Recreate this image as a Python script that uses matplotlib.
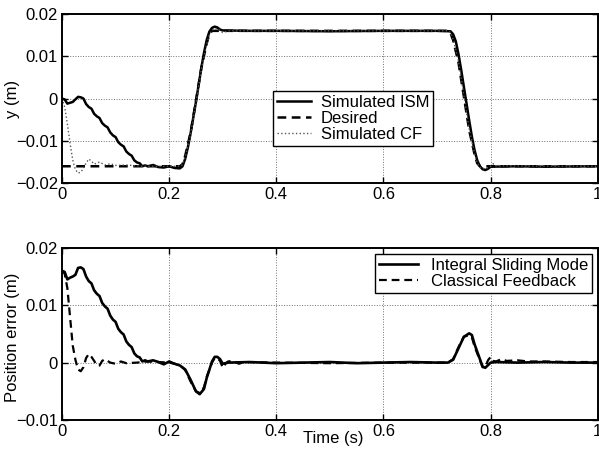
import matplotlib
matplotlib.use("Agg")
import matplotlib.pyplot as plt

plt.rcParams["font.family"] = ["Liberation Sans", "DejaVu Sans"]
plt.rcParams["font.size"] = 12

# ---- top panel: position tracking ----
t_des = [0.0, 0.22, 0.225, 0.23, 0.24, 0.25, 0.26, 0.27, 0.275, 0.28,
         0.72, 0.725, 0.73, 0.74, 0.75, 0.76, 0.77, 0.775, 0.78, 1.0]
y_des = [-0.016, -0.016, -0.0155, -0.0135, -0.0080, -0.0005, 0.0072, 0.0130, 0.0152, 0.0160,
         0.0160, 0.0155, 0.0138, 0.0085, 0.0005, -0.0075, -0.0132, -0.0153, -0.0160, -0.0160]

t_ism = [0.0, 0.005, 0.01, 0.015, 0.02, 0.025, 0.03, 0.035, 0.04, 0.045,
         0.05, 0.055, 0.06, 0.065, 0.07, 0.075, 0.08, 0.085, 0.09, 0.095,
         0.1, 0.105, 0.11, 0.115, 0.12, 0.125, 0.13, 0.135, 0.14, 0.145,
         0.15, 0.155, 0.16, 0.17, 0.18, 0.19, 0.2, 0.21, 0.22, 0.225,
         0.23, 0.235, 0.24, 0.245, 0.25, 0.255, 0.26, 0.265, 0.27, 0.275,
         0.28, 0.285, 0.29, 0.295, 0.3, 0.35, 0.4, 0.5, 0.6, 0.7,
         0.725, 0.73, 0.735, 0.74, 0.745, 0.75, 0.755, 0.76, 0.765, 0.77,
         0.775, 0.78, 0.785, 0.79, 0.795, 0.8, 0.85, 0.9, 1.0]
y_ism = [0.0, -0.0002, -0.0012, -0.0010, -0.0008, -0.0002, 0.0004, 0.0003, 0.0, -0.0013,
         -0.0020, -0.0024, -0.0036, -0.0042, -0.0046, -0.0058, -0.0064, -0.0068, -0.0080, -0.0087,
         -0.0091, -0.0103, -0.0109, -0.0113, -0.0125, -0.0131, -0.0135, -0.0146, -0.0151, -0.0153,
         -0.0160, -0.0158, -0.0160, -0.0157, -0.0162, -0.0163, -0.0160, -0.0164, -0.0165, -0.0160,
         -0.0142, -0.0115, -0.0082, -0.0045, -0.0008, 0.0032, 0.0072, 0.0108, 0.0138, 0.0158,
         0.0167, 0.0170, 0.0168, 0.0163, 0.0161, 0.0160, 0.0160, 0.0159, 0.0160, 0.0160,
         0.0159, 0.0152, 0.0135, 0.0105, 0.0068, 0.0028, -0.0012, -0.0052, -0.0090, -0.0122,
         -0.0146, -0.0160, -0.0167, -0.0169, -0.0166, -0.0161, -0.0160, -0.0161, -0.0160]

t_cf = [0.0, 0.005, 0.01, 0.015, 0.02, 0.025, 0.03, 0.035, 0.04, 0.045,
        0.05, 0.055, 0.06, 0.07, 0.08, 0.09, 0.1, 0.12, 0.15, 0.22,
        0.225, 0.23, 0.24, 0.25, 0.26, 0.27, 0.275, 0.28, 0.29, 0.295,
        0.3, 0.31, 0.72, 0.725, 0.73, 0.74, 0.75, 0.76, 0.77, 0.775,
        0.78, 0.79, 0.8, 0.805, 0.81, 1.0]
y_cf = [0.0, -0.0020, -0.0060, -0.0105, -0.0145, -0.0168, -0.0176, -0.0174, -0.0165, -0.0152,
        -0.0143, -0.0148, -0.0155, -0.0150, -0.0157, -0.0154, -0.0158, -0.0157, -0.0160, -0.0160,
        -0.0156, -0.0138, -0.0085, -0.0010, 0.0068, 0.0128, 0.0150, 0.0162, 0.0166, 0.0160,
        0.0156, 0.0160, 0.0160, 0.0156, 0.0140, 0.0088, 0.0008, -0.0072, -0.0130, -0.0152,
        -0.0163, -0.0166, -0.0160, -0.0154, -0.0159, -0.0160]

# ---- bottom panel: position error ----
t_err_ism = [0.0, 0.005, 0.01, 0.015, 0.02, 0.025, 0.03, 0.035, 0.04, 0.045,
             0.05, 0.055, 0.06, 0.065, 0.07, 0.075, 0.08, 0.085, 0.09, 0.095,
             0.1, 0.105, 0.11, 0.115, 0.12, 0.125, 0.13, 0.135, 0.14, 0.145,
             0.15, 0.155, 0.16, 0.17, 0.18, 0.19, 0.2, 0.21, 0.22, 0.23,
             0.24, 0.25, 0.257, 0.265, 0.27, 0.28, 0.285, 0.29, 0.295, 0.3,
             0.31, 0.35, 0.4, 0.45, 0.5, 0.55, 0.6, 0.65, 0.7, 0.72,
             0.73, 0.74, 0.75, 0.76, 0.765, 0.77, 0.78, 0.785, 0.79, 0.8,
             0.81, 0.85, 0.9, 0.95, 1.0]
e_ism = [0.0160, 0.0158, 0.0145, 0.0148, 0.0150, 0.0153, 0.0165, 0.0166, 0.0163, 0.0150,
         0.0142, 0.0138, 0.0126, 0.0120, 0.0116, 0.0104, 0.0098, 0.0094, 0.0082, 0.0075,
         0.0071, 0.0059, 0.0053, 0.0049, 0.0037, 0.0031, 0.0027, 0.0016, 0.0011, 0.0009,
         0.0002, 0.0004, 0.0002, 0.0004, 0.0001, -0.0003, 0.0002, -0.0002, -0.0005, -0.0012,
         -0.0030, -0.0050, -0.0055, -0.0046, -0.0027, 0.0002, 0.0010, 0.0010, 0.0006, -0.0002,
         0.0000, 0.0001, -0.0001, 0.0000, 0.0001, -0.0001, 0.0000, 0.0001, 0.0000, 0.0000,
         0.0005, 0.0025, 0.0045, 0.0051, 0.0048, 0.0032, 0.0006, -0.0007, -0.0009, 0.0000,
         0.0001, 0.0000, 0.0001, 0.0000, 0.0000]

t_err_cf = [0.0, 0.005, 0.01, 0.015, 0.02, 0.025, 0.03, 0.035, 0.04, 0.045,
            0.05, 0.055, 0.06, 0.065, 0.07, 0.075, 0.08, 0.09, 0.1, 0.11,
            0.12, 0.14, 0.16, 0.18, 0.2, 0.22, 0.23, 0.24, 0.25, 0.257,
            0.265, 0.27, 0.28, 0.285, 0.29, 0.295, 0.3, 0.305, 0.31, 0.32,
            0.33, 0.34, 0.4, 0.5, 0.6, 0.72, 0.73, 0.74, 0.75, 0.76,
            0.765, 0.77, 0.78, 0.785, 0.79, 0.795, 0.8, 0.805, 0.81, 0.82,
            0.83, 0.85, 0.87, 0.9, 0.95, 1.0]
e_cf = [0.0160, 0.0155, 0.0130, 0.0080, 0.0030, 0.0005, -0.0012, -0.0015, -0.0008, 0.0008,
        0.0015, 0.0010, 0.0003, -0.0005, -0.0005, 0.0003, 0.0006, 0.0000, -0.0002, 0.0002,
        -0.0001, 0.0000, 0.0002, 0.0001, 0.0000, -0.0004, -0.0013, -0.0033, -0.0050, -0.0053,
        -0.0043, -0.0025, 0.0000, 0.0008, 0.0008, 0.0003, -0.0009, -0.0002, 0.0002, 0.0003,
        -0.0002, 0.0001, 0.0000, -0.0001, 0.0000, 0.0000, 0.0006, 0.0027, 0.0045, 0.0048,
        0.0044, 0.0028, 0.0004, -0.0008, -0.0008, 0.0004, 0.0010, 0.0003, 0.0002, 0.0006,
        0.0003, 0.0004, 0.0002, 0.0002, 0.0001, 0.0001]

x_ticks = [0, 0.2, 0.4, 0.6, 0.8, 1.0]
x_tick_labels = ["0", "0.2", "0.4", "0.6", "0.8", "1"]
top_yticks = [-0.02, -0.01, 0, 0.01, 0.02]
top_ylabels = ["\u22120.02", "\u22120.01", "0", "0.01", "0.02"]
bot_yticks = [-0.01, 0, 0.01, 0.02]
bot_ylabels = ["\u22120.01", "0", "0.01", "0.02"]


def style_axes(ax):
    for s in ax.spines.values():
        s.set_linewidth(1.4)
    ax.tick_params(direction="in", top=True, right=True, length=4, width=1.0,
                   labelsize=12, pad=3)
    ax.grid(True, linestyle=":", color="#333333", linewidth=0.7, alpha=0.7)
    ax.set_xlim(0, 1)
    ax.set_xticks(x_ticks)
    ax.set_xticklabels(x_tick_labels)


fig = plt.figure(figsize=(5.99, 4.49), dpi=100)
ax1 = fig.add_axes([0.1035, 0.592, 0.8945, 0.377])
ax2 = fig.add_axes([0.1035, 0.0646, 0.8945, 0.3834])

ax1.plot(t_ism, y_ism, "-", color="black", lw=1.8, label="Simulated ISM")
ax1.plot(t_des, y_des, "--", color="black", lw=1.8, dashes=(3.5, 2.2), label="Desired")
ax1.plot(t_cf, y_cf, ":", color="#555555", lw=1.0, label="Simulated CF")
style_axes(ax1)
ax1.set_ylim(-0.02, 0.02)
ax1.set_yticks(top_yticks)
ax1.set_yticklabels(top_ylabels)
ax1.set_ylabel("y (m)")
ax1.yaxis.set_label_coords(-0.078, 0.5)
leg1 = ax1.legend(loc="upper left", bbox_to_anchor=(0.394, 0.544), borderaxespad=0,
                  fancybox=False, edgecolor="black", framealpha=1, fontsize=12,
                  handlelength=2.0, labelspacing=0.05, borderpad=0.25, handletextpad=0.6)
leg1.get_frame().set_linewidth(1.0)

ax2.plot(t_err_ism, e_ism, "-", color="black", lw=1.9, label="Integral Sliding Mode")
ax2.plot(t_err_cf, e_cf, "--", color="black", lw=1.6, dashes=(3.5, 2.2), label="Classical Feedback")
style_axes(ax2)
ax2.set_ylim(-0.01, 0.02)
ax2.set_yticks(bot_yticks)
ax2.set_yticklabels(bot_ylabels)
ax2.set_ylabel("Position error (m)")
ax2.yaxis.set_label_coords(-0.078, 0.48)
ax2.set_xlabel("Time (s)")
ax2.xaxis.set_label_coords(0.506, -0.105)
ax2.xaxis.label.set_va("center")
leg2 = ax2.legend(loc="upper right", bbox_to_anchor=(0.99, 0.965), borderaxespad=0,
                  fancybox=False, edgecolor="black", framealpha=1, fontsize=12,
                  handlelength=2.3, labelspacing=0.05, borderpad=0.25, handletextpad=0.8)
leg2.get_frame().set_linewidth(1.0)

fig.savefig("out.png", dpi=100)
